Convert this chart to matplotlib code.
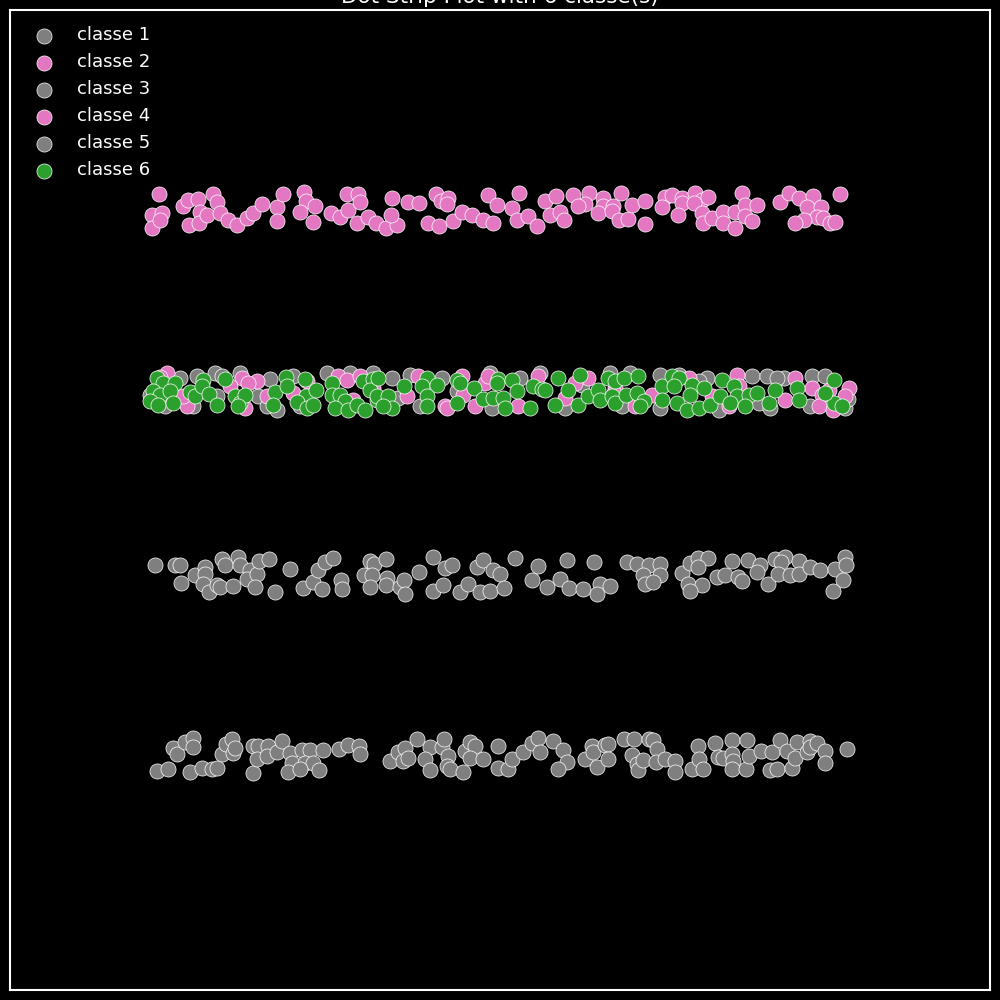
import matplotlib
matplotlib.use("Agg")
import matplotlib.pyplot as plt

plt.style.use("dark_background")

# row positions (top to bottom) for each class
ROW = {"classe 1": 3, "classe 2": 0, "classe 3": 1, "classe 4": 1, "classe 5": 2, "classe 6": 1}
COLORS = {"classe 1": "#7f7f7f", "classe 2": "#e377c2", "classe 3": "#7f7f7f",
          "classe 4": "#e377c2", "classe 5": "#7f7f7f", "classe 6": "#2ca02c"}

# classe 2 (top strip)
x2 = [15.9, 15.2, 16.2, 15.2, 16.0, 18.3, 18.8, 19.8, 21.3, 21.7, 18.9, 20.0, 19.9, 20.7, 22.0, 22.8,
      23.7, 24.7, 25.3, 26.2, 27.7, 28.3, 27.7, 30.4, 30.6, 31.5, 30.0, 31.3, 33.1, 34.0, 34.8, 34.7,
      35.8, 36.0, 35.7, 36.8, 37.6, 38.6, 39.7, 39.1, 39.2, 40.8, 41.9, 42.8, 43.9, 45.3, 46.2, 47.2,
      43.6, 44.1, 44.8, 44.7, 48.3, 49.3, 48.8, 49.7, 51.9, 51.2, 51.7, 52.8, 53.7, 54.5, 55.6, 55.0,
      56.0, 56.4, 57.3, 58.9, 58.5, 57.8, 60.3, 60.3, 61.3, 59.8, 61.2, 61.9, 62.8, 62.1, 63.2, 64.5,
      64.5, 66.5, 67.2, 66.2, 68.2, 68.2, 67.8, 69.5, 70.2, 70.8, 69.4, 70.2, 70.3, 71.2, 72.3, 72.3,
      73.5, 73.5, 74.2, 74.5, 74.5, 75.2, 75.7, 78.0, 78.9, 79.9, 81.3, 80.7, 82.1, 81.7, 82.3, 80.4,
      79.5, 83.0, 83.5, 84.0]
j2 = [-0.088, 0.027, 0.016, 0.099, 0.055, -0.022, -0.055, -0.060, -0.088, -0.044, 0.082, 0.011,
      0.071, 0.027, 0.016, 0.055, 0.082, 0.044, 0.016, -0.033, -0.016, -0.088, 0.060, -0.099, -0.049,
      -0.022, 0.011, 0.066, 0.016, 0.038, 0.0, -0.088, -0.088, -0.044, 0.071, 0.038, 0.071, 0.099,
      0.082, 0.027, -0.066, -0.044, -0.038, 0.071, 0.088, 0.060, 0.011, 0.027, -0.088, -0.049, -0.066,
      -0.033, 0.055, 0.071, -0.082, -0.027, -0.093, -0.011, 0.055, 0.033, 0.088, -0.049, -0.077,
      0.027, 0.011, 0.055, -0.082, -0.093, -0.033, -0.022, -0.066, -0.022, -0.022, 0.016, 0.005,
      0.055, 0.049, -0.093, -0.027, -0.049, 0.077, -0.071, -0.082, -0.016, -0.066, -0.038, 0.027,
      -0.093, -0.055, -0.071, -0.038, 0.016, 0.071, 0.044, 0.011, 0.071, 0.011, 0.099, -0.093,
      -0.027, 0.033, 0.060, -0.027, -0.044, -0.093, -0.066, -0.077, -0.016, -0.016, 0.038, 0.044,
      0.055, 0.071, 0.071, 0.066, -0.088]

# classe 3 (grey, second strip)
x3 = [18.0, 19.7, 21.5, 22.2, 15.0, 25.8, 26.7, 27.7, 32.7, 29.3, 37.3, 21.7, 19.3, 39.2, 41.0, 44.2,
      49.0, 52.0, 58.2, 39.8, 49.2, 45.7, 61.0, 66.0, 67.9, 70.7, 75.2, 76.7, 78.4, 77.7, 62.2, 66.0,
      69.9, 81.0, 84.5, 71.9, 75.9, 81.2, 16.5, 27.0, 24.0, 30.0, 35.0, 42.0, 54.0, 56.5, 63.0, 77.0,
      82.5, 84.8]
j3 = [-0.077, -0.088, -0.104, -0.088, 0.016, 0.022, 0.077, 0.099, -0.104, -0.088, -0.104, 0.022,
      0.077, -0.077, -0.093, -0.077, -0.104, -0.077, -0.038, 0.033, 0.088, -0.005, -0.104, -0.093,
      -0.093, -0.077, -0.088, -0.088, -0.077, -0.077, 0.077, 0.088, -0.060, 0.077, 0.088, 0.099,
      0.060, -0.088, 0.077, -0.071, -0.104, 0.077, -0.104, 0.077, -0.104, 0.088, -0.104, 0.088,
      -0.088, 0.038]

# classe 4 (pink, second strip)
x4 = [16.7, 18.7, 18.3, 24.2, 25.7, 24.8, 23.0, 26.7, 29.3, 30.7, 33.8, 34.7, 35.3, 37.3, 36.0, 41.8,
      40.7, 44.5, 46.2, 46.3, 47.5, 48.5, 51.8, 53.8, 56.5, 58.8, 57.5, 61.5, 48.8, 61.4, 63.5, 65.2,
      73.7, 73.9, 72.9, 78.5, 79.5, 81.2, 82.2, 84.9, 84.5, 82.9, 81.9, 71.2, 68.9, 24.5, 44.7, 83.3,
      16.0]
j4 = [-0.104, 0.077, 0.022, -0.077, -0.060, -0.049, -0.033, 0.022, 0.005, -0.060, -0.088, -0.066,
      0.044, -0.022, -0.088, -0.088, 0.022, 0.077, -0.088, 0.016, 0.077, -0.049, 0.077, -0.088,
      0.033, -0.077, -0.049, -0.022, -0.088, 0.005, 0.077, 0.016, -0.093, -0.033, 0.077, 0.044,
      -0.077, -0.022, 0.016, -0.022, 0.022, -0.011, 0.077, 0.022, -0.077, 0.088, 0.088, 0.099, -0.082]

# classe 6 (green, second strip)
x6 = [15.7, 16.3, 17.5, 15.3, 16.0, 17.0, 15.0, 15.8, 17.3, 19.0, 19.5, 20.3, 20.2, 20.9, 21.7, 22.5,
      23.5, 24.0, 24.5, 23.8, 27.5, 27.3, 28.6, 28.7, 30.5, 30.6, 29.7, 30.7, 31.3, 31.6, 33.2, 33.2,
      34.0, 34.5, 33.5, 34.8, 35.7, 36.3, 37.3, 37.0, 36.5, 37.7, 37.8, 37.7, 38.8, 39.2, 38.3, 40.4,
      42.7, 42.2, 43.7, 42.7, 42.7, 45.7, 46.0, 47.4, 45.7, 48.3, 49.8, 49.7, 51.2, 51.7, 49.3, 50.3,
      50.5, 53.3, 54.2, 54.5, 53.0, 55.5, 55.8, 56.8, 58.0, 57.8, 58.8, 59.8, 60.0, 60.8, 61.2, 61.5,
      62.4, 63.8, 61.5, 62.6, 63.7, 64.4, 64.0, 66.2, 67.2, 67.9, 67.4, 66.2, 67.7, 68.7, 69.2, 69.0,
      69.9, 70.4, 71.0, 72.2, 72.0, 73.4, 73.7, 73.0, 74.9, 74.5, 75.7, 76.9, 77.5, 79.7, 79.9, 83.4,
      83.4, 84.2, 82.5]
j6 = [-0.077, -0.049, -0.049, -0.005, 0.016, -0.005, 0.049, 0.071, 0.060, 0.0, 0.022, -0.066, -0.033,
      0.011, 0.071, -0.071, 0.022, 0.060, 0.016, 0.077, 0.0, 0.071, -0.082, -0.033, -0.071, 0.022,
      0.055, 0.088, 0.071, -0.011, -0.049, 0.016, 0.016, 0.049, 0.088, 0.099, 0.071, -0.060, -0.071,
      -0.011, 0.099, 0.044, -0.077, 0.022, 0.022, 0.088, 0.077, -0.033, -0.077, -0.033, -0.038,
      0.022, 0.077, -0.066, -0.049, -0.022, 0.060, 0.038, -0.071, -0.049, -0.066, -0.005, 0.033,
      0.033, 0.088, -0.033, -0.016, -0.011, 0.088, 0.071, -0.077, -0.011, -0.093, 0.071, 0.022,
      -0.011, 0.044, -0.077, 0.022, -0.060, -0.077, -0.088, 0.060, 0.016, 0.005, 0.049, 0.077,
      -0.033, -0.088, -0.077, -0.033, 0.044, 0.060, 0.099, -0.038, 0.016, 0.088, -0.022, 0.071,
      -0.066, 0.022, -0.033, 0.022, 0.060, 0.016, 0.077, 0.005, 0.060, -0.011, -0.022, 0.044,
      -0.066, 0.060, 0.077, 0.005]

# classe 5 (grey, third strip)
x5 = [15.5, 17.5, 18.0, 18.1, 19.5, 20.5, 20.5, 20.3, 20.9, 21.7, 22.0, 22.2, 22.5, 23.3, 23.8, 24.0,
      25.0, 24.7, 25.7, 25.5, 25.9, 26.9, 27.5, 29.0, 30.3, 31.3, 31.8, 32.2, 32.5, 33.3, 34.1, 34.2,
      36.4, 37.0, 37.4, 37.2, 37.0, 38.6, 38.7, 38.6, 40.0, 40.4, 40.5, 41.9, 43.3, 44.5, 45.2, 43.3,
      44.3, 46.0, 46.8, 47.7, 48.3, 49.3, 50.0, 48.0, 49.0, 50.4, 51.5, 53.2, 53.8, 54.7, 56.0, 56.7,
      56.9, 58.3, 59.4, 60.0, 59.7, 61.0, 62.7, 63.7, 64.9, 66.0, 64.3, 66.0, 64.5, 65.3, 68.2, 69.0,
      69.8, 70.8, 69.8, 68.8, 70.2, 69.0, 71.7, 72.5, 73.2, 73.8, 74.2, 74.8, 76.0, 75.7, 76.8, 77.5,
      78.5, 78.1, 77.8, 79.0, 79.9, 79.9, 81.0, 82.0, 83.5, 84.5, 84.6, 84.3, 83.3]
j5 = [-0.049, -0.049, -0.049, 0.049, 0.005, -0.038, 0.0, 0.055, 0.099, 0.060, 0.071, -0.082, -0.049,
      0.066, -0.093, -0.049, -0.022, 0.027, 0.0, 0.071, -0.071, -0.082, 0.099, -0.027, 0.077, 0.044,
      -0.022, 0.082, -0.066, -0.088, 0.033, 0.082, 0.005, -0.071, -0.055, 0.005, 0.071, -0.082,
      0.022, 0.060, 0.071, 0.033, 0.110, -0.011, -0.093, -0.033, -0.049, 0.093, 0.060, 0.099, 0.055,
      -0.038, -0.077, -0.022, 0.0, 0.099, 0.093, 0.077, -0.088, 0.033, -0.044, 0.071, 0.027, -0.077,
      0.077, 0.082, -0.066, 0.055, 0.110, 0.066, -0.066, -0.055, -0.049, -0.055, 0.005, 0.005, 0.055,
      0.044, -0.005, -0.060, -0.088, -0.088, -0.038, 0.055, 0.060, 0.093, 0.016, 0.005, -0.071, 0.016,
      0.038, -0.077, -0.049, -0.011, 0.055, -0.082, -0.093, -0.066, 0.0, 0.005, -0.071, 0.0, -0.038,
      -0.022, -0.027, -0.093, -0.049, 0.033, 0.093]

# classe 1 (grey, bottom strip)
x1 = [15.7, 16.8, 17.3, 17.7, 18.5, 19.3, 19.3, 19.0, 20.2, 21.2, 21.7, 22.2, 22.6, 23.2, 23.3, 23.5,
      25.3, 25.3, 25.8, 26.8, 25.7, 26.7, 27.7, 28.2, 29.0, 30.2, 31.0, 29.2, 30.5, 31.3, 28.8, 30.0,
      31.9, 32.3, 33.9, 34.8, 35.9, 36.0, 39.0, 39.8, 40.5, 40.3, 40.8, 41.7, 43.0, 42.5, 43.0, 44.2,
      44.4, 44.8, 44.7, 45.0, 46.3, 46.5, 47.0, 47.5, 47.0, 48.3, 49.8, 49.8, 50.8, 51.2, 52.3, 53.2,
      53.8, 54.0, 55.3, 56.3, 56.7, 55.8, 58.5, 59.2, 59.3, 59.7, 60.5, 60.8, 60.8, 62.4, 63.4, 63.2,
      63.7, 63.8, 64.3, 64.9, 65.3, 65.7, 65.6, 66.5, 67.5, 67.5, 69.2, 69.8, 69.9, 70.3, 71.5, 71.8,
      72.3, 73.2, 73.2, 73.3, 73.2, 74.7, 74.6, 74.9, 76.1, 77.2, 77.0, 77.7, 78.0, 78.7, 79.2, 79.5,
      79.7, 80.7, 81.0, 81.0, 81.7, 82.5, 82.5, 84.7]
j1 = [0.082, 0.071, -0.044, -0.011, -0.077, -0.099, -0.049, 0.088, 0.066, 0.071, 0.066, -0.011,
      -0.066, -0.093, -0.016, -0.044, 0.093, -0.055, -0.055, -0.055, 0.016, 0.0, -0.022, -0.082,
      -0.016, -0.033, -0.033, 0.038, 0.038, 0.038, 0.088, 0.071, 0.077, -0.033, -0.038, -0.060,
      -0.055, -0.011, 0.027, -0.022, -0.044, 0.027, 0.011, -0.093, -0.049, 0.016, 0.077, -0.049,
      -0.093, 0.0, 0.055, 0.071, 0.088, -0.027, -0.077, -0.055, 0.011, 0.016, -0.055, 0.066, 0.071,
      0.016, -0.022, -0.071, -0.099, -0.022, -0.082, -0.033, 0.033, 0.071, 0.016, -0.055, -0.022,
      0.060, -0.060, -0.066, 0.016, -0.093, -0.093, -0.005, 0.044, 0.077, 0.022, -0.093, -0.088,
      -0.038, 0.033, 0.016, 0.027, 0.088, 0.071, -0.055, 0.016, 0.071, -0.071, 0.005, 0.011, -0.088,
      -0.011, 0.027, 0.071, -0.088, 0.071, 0.0, -0.027, -0.022, 0.077, 0.071, -0.088, -0.027, 0.066,
      0.011, -0.077, -0.022, -0.082, -0.049, -0.071, -0.027, 0.038, -0.038]

DATA = {"classe 1": (x1, j1), "classe 2": (x2, j2), "classe 3": (x3, j3),
        "classe 4": (x4, j4), "classe 5": (x5, j5), "classe 6": (x6, j6)}

fig = plt.figure(figsize=(10, 10), dpi=100)
fig.patch.set_facecolor("black")
ax = fig.add_axes([0.01, 0.01, 0.98, 0.98])
ax.set_facecolor("black")

for name, (xs, js) in DATA.items():
    ys = [ROW[name] + j for j in js]
    ax.scatter(xs, ys, s=118, color=COLORS[name], edgecolors="white", linewidths=0.5, label=name)

ax.set_xlim(1.0, 99.0)
ax.set_ylim(4.286, -1.099)
ax.set_xticks([]); ax.set_yticks([])
for sp in ax.spines.values():
    sp.set_color("white"); sp.set_linewidth(1.5)

ax.set_title("Dot Strip Plot with 6 classe(s)", fontsize=15.5, color="white", pad=5)
ax.legend(loc="upper left", frameon=False, fontsize=13, labelcolor="white")

fig.savefig("out.png", dpi=100, facecolor="black")
